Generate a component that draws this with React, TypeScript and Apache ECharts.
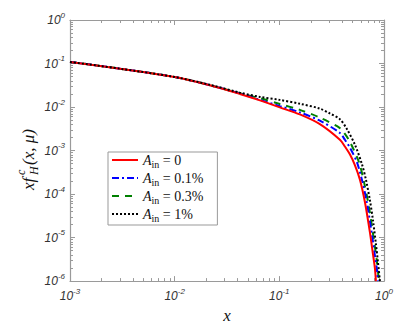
import React, { useEffect, useRef } from 'react';
import * as echarts from 'echarts';

// ---- data ----
const legendValues = ['0', '0.1%', '0.3%', '1%'];
const seriesIds = ['a0', 'a01', 'a03', 'a1'];
const seriesColors = ['#ff0000', '#0000ff', '#008000', '#000000'];

const redCurve: number[][] = [
  [0.001, 0.109], [0.003, 0.0761], [0.01, 0.049], [0.0217, 0.0317], [0.042, 0.02],
  [0.0653, 0.0142], [0.101, 0.0098], [0.157, 0.00676], [0.244, 0.00404], [0.379, 0.00177],
  [0.423, 0.00124], [0.472, 0.000818], [0.527, 0.000464], [0.589, 0.000214], [0.657, 6.56e-5],
  [0.733, 1.33e-5], [0.783, 4.27e-6], [0.819, 1.97e-6], [0.837, 1e-6],
];
const blueCurve: number[][] = [
  [0.001, 0.109], [0.003, 0.0761], [0.01, 0.049], [0.0217, 0.0317], [0.042, 0.0205],
  [0.0653, 0.0146], [0.101, 0.0105], [0.157, 0.00755], [0.244, 0.00486], [0.379, 0.00254],
  [0.423, 0.00177], [0.472, 0.00117], [0.551, 0.000542], [0.615, 0.000214], [0.687, 6.22e-5],
  [0.766, 1.2e-5], [0.819, 3.86e-6], [0.855, 1.88e-6], [0.874, 1e-6],
];
const greenCurve: number[][] = [
  [0.001, 0.109], [0.003, 0.0761], [0.01, 0.049], [0.0217, 0.0318], [0.042, 0.0207],
  [0.0653, 0.0159], [0.101, 0.0117], [0.157, 0.0086], [0.244, 0.00571], [0.379, 0.00329],
  [0.423, 0.00241], [0.472, 0.0016], [0.576, 0.000542], [0.643, 0.000193], [0.718, 5.07e-5],
  [0.801, 8.79e-6], [0.855, 2.83e-6], [0.894, 1e-6],
];
const blackCurve: number[][] = [
  [0.001, 0.109], [0.003, 0.0761], [0.01, 0.049], [0.0217, 0.0325], [0.042, 0.0214],
  [0.0653, 0.0171], [0.101, 0.0146], [0.157, 0.0119], [0.244, 0.00921], [0.304, 0.00712],
  [0.379, 0.00523], [0.442, 0.00312], [0.527, 0.00137], [0.615, 0.000489], [0.672, 0.000214],
  [0.733, 7.27e-5], [0.783, 2.59e-5], [0.837, 7.16e-6], [0.874, 2.83e-6], [0.914, 1e-6],
];
const curves = [redCurve, blueCurve, greenCurve, blackCurve];
const lineDashes: any[] = ['solid', [7, 3, 2, 3], [7, 6], [2, 2]];

const xMin = 0.001;
const xMax = 1;
const yMin = 1e-6;
const yMax = 1;

const axisGray = '#9a9a9a';
const tickFont = 'Liberation Sans';
const mathFont = 'Liberation Serif';

const powLabel = (v: number) => {
  const e = Math.round(Math.log10(v));
  return `{b|10}{s|${e}}`;
};

const tickRich = {
  b: { fontSize: 12, fontStyle: 'italic', fontFamily: tickFont, color: '#333', lineHeight: 18 },
  s: { fontSize: 8, fontStyle: 'italic', fontFamily: tickFont, color: '#333', verticalAlign: 'top' },
};

export default function App() {
  const ref = useRef<HTMLDivElement>(null);
  useEffect(() => {
    if (!ref.current) return;
    const chart = echarts.init(ref.current, undefined, { renderer: 'svg' });
    const baseAxis = {
      type: 'log',
      logBase: 10,
      interval: 1,
      axisLine: { show: true, onZero: false, lineStyle: { color: axisGray, width: 1.2 } },
      axisTick: { show: true, inside: true, length: 5, lineStyle: { color: axisGray } },
      minorTick: { show: true, splitNumber: 9, length: 3, lineStyle: { color: axisGray } },
      splitLine: { show: false },
      minorSplitLine: { show: false },
    };
    const option: any = {
      animation: false,
      backgroundColor: '#ffffff',
      grid: { left: 70, right: 31, top: 20, bottom: 41, show: false },
      xAxis: [
        {
          ...baseAxis,
          min: xMin,
          max: xMax,
          position: 'bottom',
          axisLabel: { formatter: powLabel, margin: 6, rich: tickRich },
          name: 'x',
          nameLocation: 'middle',
          nameGap: 25,
          nameTextStyle: { fontFamily: mathFont, fontStyle: 'italic', fontSize: 17, color: '#111' },
        },
        {
          ...baseAxis,
          min: xMin,
          max: xMax,
          position: 'top',
          axisLabel: { show: false },
        },
      ],
      yAxis: [
        {
          ...baseAxis,
          min: yMin,
          max: yMax,
          position: 'left',
          axisLabel: { formatter: powLabel, margin: 5, rich: tickRich },
        },
        {
          ...baseAxis,
          min: yMin,
          max: yMax,
          position: 'right',
          axisLabel: { show: false },
        },
      ],
      legend: {
        orient: 'vertical',
        left: 108,
        top: 152,
        itemWidth: 26,
        itemHeight: 10,
        itemGap: 2,
        padding: [1, 14, 2, 3],
        backgroundColor: '#ffffff',
        borderColor: '#999',
        borderWidth: 1,
        borderRadius: 0,
        itemStyle: { opacity: 0 },
        data: seriesIds,
        formatter: (name: string) => {
          const i = seriesIds.indexOf(name);
          return `{a|A}{sub|in}{n| = ${legendValues[i]}}`;
        },
        textStyle: {
          rich: {
            a: { fontFamily: mathFont, fontStyle: 'italic', fontSize: 14, color: '#111', lineHeight: 18 },
            sub: { fontFamily: mathFont, fontSize: 10, color: '#111', verticalAlign: 'bottom' },
            n: { fontFamily: mathFont, fontSize: 14, color: '#111' },
          },
        },
      },
      series: curves.map((c, i) => ({
        id: seriesIds[i],
        name: seriesIds[i],
        type: 'line',
        xAxisIndex: 0,
        yAxisIndex: 0,
        data: c,
        smooth: 0.3,
        showSymbol: false,
        symbol: 'none',
        z: i === 3 ? 14 : 10 - i,
        lineStyle: { color: seriesColors[i], width: 2, type: lineDashes[i] },
        itemStyle: { color: seriesColors[i] },
      })),
      graphic: [
        {
          type: 'group',
          x: 28,
          y: 152,
          rotation: Math.PI / 2,
          children: [
            { type: 'text', x: -38, y: 0, style: { text: 'xf', font: `italic 17px "${mathFont}"`, fill: '#111', textVerticalAlign: 'middle' } },
            { type: 'text', x: -23, y: -7, style: { text: 'c', font: `italic 12px "${mathFont}"`, fill: '#111', textVerticalAlign: 'middle' } },
            { type: 'text', x: -23, y: 6, style: { text: 'H', font: `italic 12px "${mathFont}"`, fill: '#111', textVerticalAlign: 'middle' } },
            { type: 'text', x: -13, y: 0, style: { text: '(x, μ)', font: `italic 17px "${mathFont}"`, fill: '#111', textVerticalAlign: 'middle' } },
          ],
        },
      ],
    };
    chart.setOption(option);
    return () => chart.dispose();
  }, []);
  return <div ref={ref} style={{ position: 'fixed', left: 0, top: 0, width: 415, height: 329 }} />;
}
